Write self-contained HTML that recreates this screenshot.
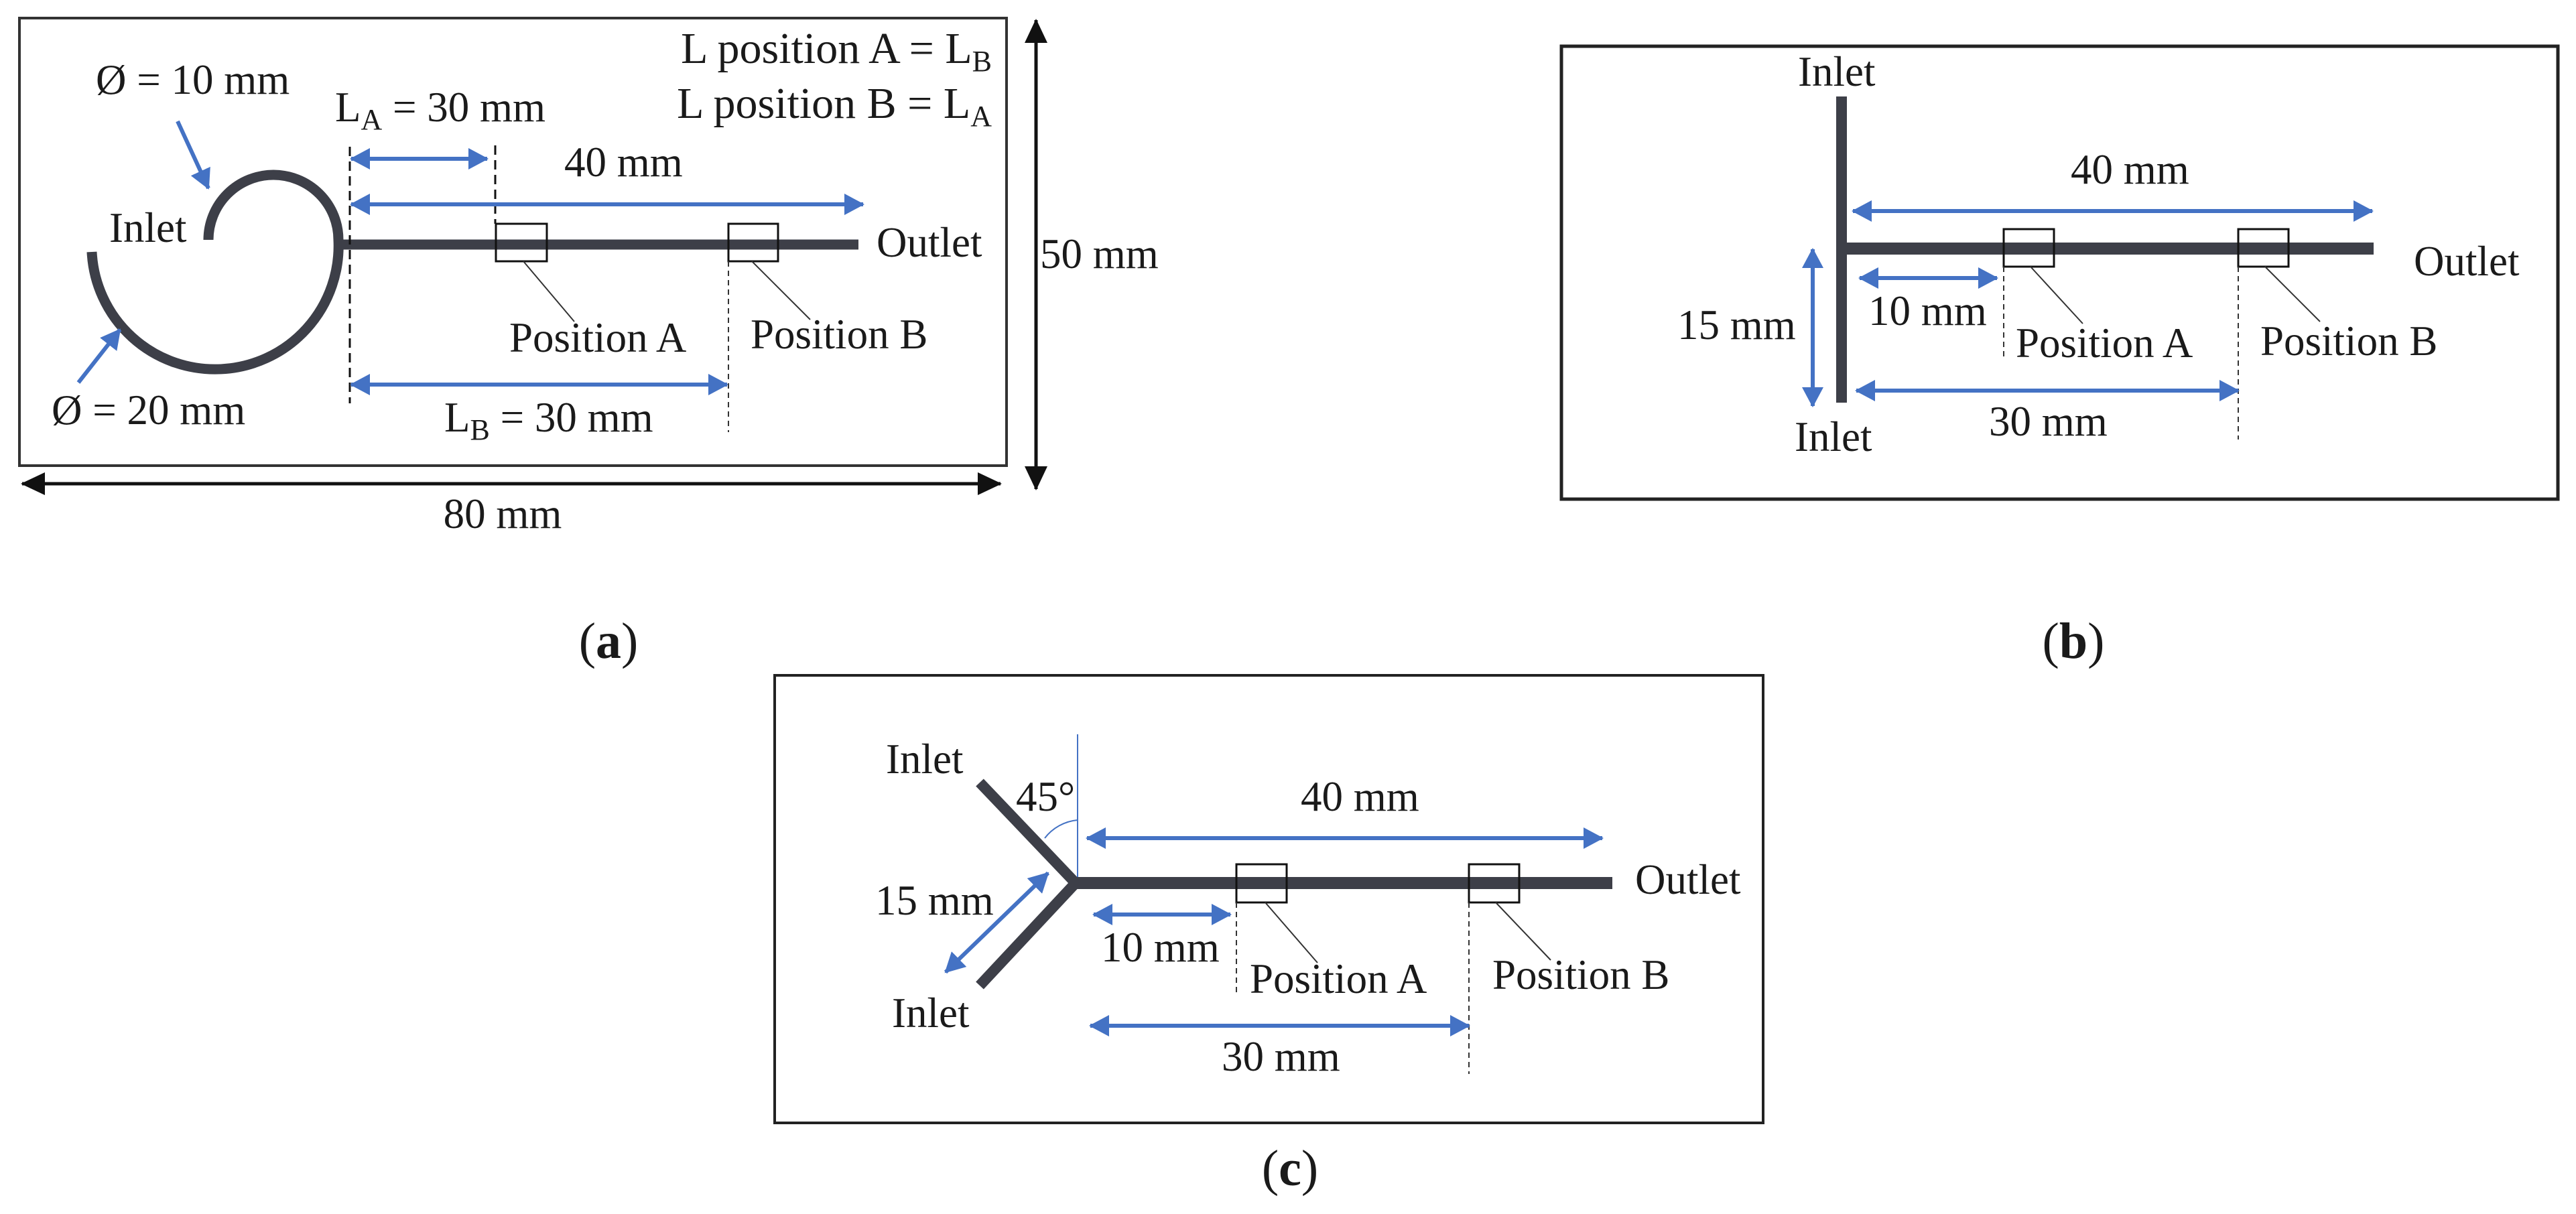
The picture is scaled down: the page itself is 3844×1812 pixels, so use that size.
<!DOCTYPE html>
<html><head><meta charset="utf-8"><style>
html,body{margin:0;padding:0;background:#fff;}
svg{display:block;}
text{font-family:"Liberation Serif","DejaVu Serif",serif;fill:#1a1a1a;}
</style></head><body>
<svg width="3844" height="1812" viewBox="0 0 3844 1812" xmlns="http://www.w3.org/2000/svg">
<defs>
<marker id="bh" viewBox="0 0 30 32" refX="28" refY="16" markerWidth="30" markerHeight="32" markerUnits="userSpaceOnUse" orient="auto-start-reverse"><path d="M0,0 L30,16 L0,32 Z" fill="#4472c4"/></marker>
<marker id="kh" viewBox="0 0 36 34" refX="34" refY="17" markerWidth="36" markerHeight="34" markerUnits="userSpaceOnUse" orient="auto-start-reverse"><path d="M0,0 L36,17 L0,34 Z" fill="#111"/></marker>
</defs>
<g font-size="63">
<!-- Panel A -->
<rect x="29" y="27" width="1473" height="668" fill="none" stroke="#333" stroke-width="4"/>
<line x1="33" y1="722" x2="1493" y2="722" stroke="#111" stroke-width="5" marker-start="url(#kh)" marker-end="url(#kh)"/>
<text x="750" y="788" text-anchor="middle">80 mm</text>
<line x1="1546" y1="30" x2="1546" y2="730" stroke="#111" stroke-width="5" marker-start="url(#kh)" marker-end="url(#kh)"/>
<text x="1552" y="400">50 mm</text>
<text x="1480" y="94" text-anchor="end" font-size="66">L position A = L<tspan font-size="44" dy="12">B</tspan></text>
<text x="1480" y="176" text-anchor="end" font-size="66">L position B = L<tspan font-size="44" dy="12">A</tspan></text>
<text x="143" y="140">Ø = 10 mm</text>
<text x="500" y="181">L<tspan font-size="44" dy="12">A</tspan><tspan dy="-12"> = 30 mm</tspan></text>
<text x="842" y="263">40 mm</text>
<text x="163" y="361">Inlet</text>
<text x="1308" y="383">Outlet</text>
<text x="77" y="633">Ø = 20 mm</text>
<text x="663" y="644">L<tspan font-size="44" dy="12">B</tspan><tspan dy="-12"> = 30 mm</tspan></text>
<text x="760" y="525">Position A</text>
<text x="1120" y="520">Position B</text>
<path d="M311,358 A97,97 0 0 1 505,358 A184,184 0 0 1 137,376" fill="none" stroke="#3d3f48" stroke-width="15"/>
<line x1="505" y1="365" x2="1281" y2="365" stroke="#3d3f48" stroke-width="15"/>
<rect x="740" y="334" width="76" height="56" fill="none" stroke="#111" stroke-width="3"/>
<rect x="1087" y="334" width="74" height="56" fill="none" stroke="#111" stroke-width="3"/>
<line x1="781" y1="390" x2="857" y2="480" stroke="#333" stroke-width="2"/>
<line x1="1122" y1="390" x2="1209" y2="477" stroke="#333" stroke-width="2"/>
<line x1="522" y1="219" x2="522" y2="602" stroke="#111" stroke-width="3" stroke-dasharray="14,8"/>
<line x1="739" y1="217" x2="739" y2="334" stroke="#111" stroke-width="3" stroke-dasharray="14,8"/>
<line x1="1087" y1="390" x2="1087" y2="645" stroke="#333" stroke-width="2" stroke-dasharray="8,6"/>
<g stroke="#4472c4" stroke-width="6" fill="none">
<line x1="524" y1="237" x2="727" y2="237" marker-start="url(#bh)" marker-end="url(#bh)"/>
<line x1="524" y1="305" x2="1288" y2="305" marker-start="url(#bh)" marker-end="url(#bh)"/>
<line x1="524" y1="574" x2="1085" y2="574" marker-start="url(#bh)" marker-end="url(#bh)"/>
<line x1="265" y1="181" x2="311" y2="281" marker-end="url(#bh)"/>
<line x1="117" y1="571" x2="179" y2="492" marker-end="url(#bh)"/>
</g>
<text x="908" y="982" text-anchor="middle" font-size="76">(<tspan font-weight="bold">a</tspan>)</text>

<!-- Panel B -->
<rect x="2330" y="69" width="1487" height="676" fill="none" stroke="#222" stroke-width="5"/>
<text x="2683" y="128">Inlet</text>
<text x="2678" y="673">Inlet</text>
<text x="3090" y="274">40 mm</text>
<text x="3602" y="411">Outlet</text>
<text x="2788" y="485">10 mm</text>
<text x="2503" y="506">15 mm</text>
<text x="3008" y="533">Position A</text>
<text x="3373" y="530">Position B</text>
<text x="2968" y="650">30 mm</text>
<line x1="2748" y1="144" x2="2748" y2="601" stroke="#3d3f48" stroke-width="16"/>
<line x1="2748" y1="371" x2="3542" y2="371" stroke="#3d3f48" stroke-width="18"/>
<rect x="2990" y="342" width="75" height="56" fill="none" stroke="#111" stroke-width="3"/>
<rect x="3340" y="342" width="75" height="56" fill="none" stroke="#111" stroke-width="3"/>
<line x1="3030" y1="398" x2="3108" y2="483" stroke="#333" stroke-width="2"/>
<line x1="3380" y1="398" x2="3462" y2="480" stroke="#333" stroke-width="2"/>
<line x1="2990" y1="398" x2="2990" y2="533" stroke="#333" stroke-width="2" stroke-dasharray="8,6"/>
<line x1="3340" y1="398" x2="3340" y2="656" stroke="#333" stroke-width="2" stroke-dasharray="8,6"/>
<g stroke="#4472c4" stroke-width="6" fill="none">
<line x1="2765" y1="315" x2="3540" y2="315" marker-start="url(#bh)" marker-end="url(#bh)"/>
<line x1="2775" y1="415" x2="2980" y2="415" marker-start="url(#bh)" marker-end="url(#bh)"/>
<line x1="2705" y1="372" x2="2705" y2="606" marker-start="url(#bh)" marker-end="url(#bh)"/>
<line x1="2770" y1="583" x2="3340" y2="583" marker-start="url(#bh)" marker-end="url(#bh)"/>
</g>
<text x="3094" y="982" text-anchor="middle" font-size="76">(<tspan font-weight="bold">b</tspan>)</text>

<!-- Panel C -->
<rect x="1156" y="1008" width="1475" height="668" fill="none" stroke="#222" stroke-width="4"/>
<text x="1322" y="1154">Inlet</text>
<text x="1331" y="1533">Inlet</text>
<text x="1516" y="1210">45°</text>
<text x="1941" y="1210">40 mm</text>
<text x="1306" y="1365">15 mm</text>
<text x="2440" y="1334">Outlet</text>
<text x="1643" y="1435">10 mm</text>
<text x="1865" y="1482">Position A</text>
<text x="2227" y="1476">Position B</text>
<text x="1823" y="1598">30 mm</text>
<line x1="1608" y1="1096" x2="1608" y2="1318" stroke="#4472c4" stroke-width="2"/>
<path d="M1559,1251 A70,70 0 0 1 1608,1224" fill="none" stroke="#4472c4" stroke-width="2"/>
<polyline points="1462,1168 1605,1318 1462,1471" fill="none" stroke="#3d3f48" stroke-width="16"/>
<line x1="1605" y1="1318" x2="2406" y2="1318" stroke="#3d3f48" stroke-width="18"/>
<rect x="1845" y="1290" width="75" height="57" fill="none" stroke="#111" stroke-width="3"/>
<rect x="2192" y="1290" width="75" height="57" fill="none" stroke="#111" stroke-width="3"/>
<line x1="1888" y1="1347" x2="1966" y2="1437" stroke="#333" stroke-width="2"/>
<line x1="2232" y1="1347" x2="2314" y2="1433" stroke="#333" stroke-width="2"/>
<line x1="1845" y1="1347" x2="1845" y2="1484" stroke="#333" stroke-width="2" stroke-dasharray="8,6"/>
<line x1="2192" y1="1347" x2="2192" y2="1603" stroke="#333" stroke-width="2" stroke-dasharray="8,6"/>
<g stroke="#4472c4" stroke-width="6" fill="none">
<line x1="1622" y1="1251" x2="2391" y2="1251" marker-start="url(#bh)" marker-end="url(#bh)"/>
<line x1="1632" y1="1365" x2="1836" y2="1365" marker-start="url(#bh)" marker-end="url(#bh)"/>
<line x1="1627" y1="1531" x2="2192" y2="1531" marker-start="url(#bh)" marker-end="url(#bh)"/>
<line x1="1564" y1="1303" x2="1411" y2="1451" marker-start="url(#bh)" marker-end="url(#bh)"/>
</g>
<text x="1925" y="1769" text-anchor="middle" font-size="76">(<tspan font-weight="bold">c</tspan>)</text>
</g>
</svg>
</body></html>
